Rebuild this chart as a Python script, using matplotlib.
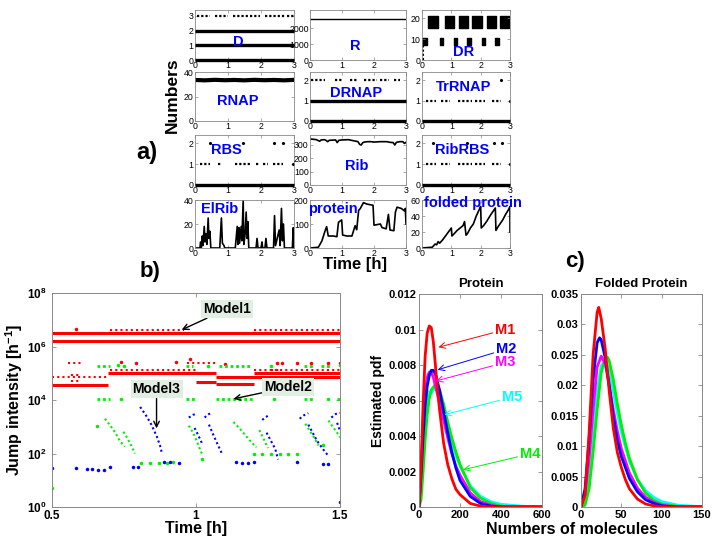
import matplotlib
matplotlib.use('Agg')
import matplotlib.pyplot as plt
from matplotlib.ticker import NullLocator, FormatStrFormatter

plt.rcParams['font.family'] = ['Liberation Sans', 'DejaVu Sans']
plt.rcParams['mathtext.fontset'] = 'custom'
plt.rcParams['mathtext.rm'] = 'Liberation Sans'
plt.rcParams['mathtext.bf'] = 'Liberation Sans:bold'
plt.rcParams['mathtext.it'] = 'Liberation Sans:italic'

# ---------------- DATA: panel a ----------------
D_solid = [0, 1, 2]
D_dots3 = [(0.05, 0.45), (0.62, 1.0), (1.15, 1.6), (1.68, 1.98), (2.12, 2.72), (2.8, 3.0)]

R_t = [0, 3]
R_v = [2600, 2600]

DR_hi_blocks = [(0.22, 0.32), (0.78, 0.32), (1.25, 0.32), (1.72, 0.32), (2.2, 0.32), (2.66, 0.32)]
DR_lo_blocks = [(0.0, 0.17), (0.6, 0.13), (1.08, 0.13), (1.55, 0.13), (2.03, 0.13), (2.5, 0.13)]

RNAP_t = [0, 0.3, 0.6, 0.9, 1.2, 1.5, 1.8, 2.1, 2.4, 2.7, 3.0]
RNAP_v = [33.5, 33.2, 33.6, 33.3, 33.5, 33.2, 33.6, 33.3, 33.5, 33.2, 33.6]

DRNAP_solid = [0, 1]
DRNAP_dots2 = [(0.02, 0.47), (0.78, 0.99), (1.25, 1.46), (1.69, 2.09), (2.19, 2.46), (2.61, 2.82)]

TrRNAP_dots1 = [(0.15, 0.49), (0.66, 0.95), (1.23, 1.69), (1.8, 2.14), (2.37, 2.71)]
TrRNAP_single_t = [2.68, 3.0]
TrRNAP_single_v = [2, 1]

RBS_dots1 = [(0.15, 0.45), (0.7, 0.8), (1.21, 1.66), (1.86, 1.96), (2.06, 2.22), (2.37, 2.67)]
RBS_single_t = [0.45, 1.46, 2.39, 2.67, 2.97]
RBS_single_v = [2, 2, 2, 2, 1]

Rib_t = [0, 0.1, 0.2, 0.3, 0.35, 0.45, 0.5, 0.55, 0.6, 0.8, 0.85, 0.9, 1.0, 1.2, 1.3, 1.4,
         1.5, 1.55, 1.6, 1.65, 1.7, 1.8, 1.9, 2.0, 2.2, 2.4, 2.5, 2.6, 2.65, 2.7, 2.8, 2.9, 2.95, 3.0]
Rib_v = [345, 343, 340, 328, 338, 340, 335, 325, 335, 338, 318, 335, 338, 340, 335, 330,
         325, 305, 300, 318, 322, 325, 325, 322, 325, 325, 320, 318, 300, 320, 325, 325, 312, 320]

RibRBS_dots1 = [(0.15, 0.49), (0.66, 0.95), (1.23, 1.69), (1.8, 2.14), (2.37, 2.71)]
RibRBS_single_t = [0.38, 1.52, 2.46, 2.74, 3.0]
RibRBS_single_v = [2, 2, 2, 2, 1]

ElRib_t = [0, 0.15, 0.17, 0.19, 0.22, 0.24, 0.28, 0.30, 0.33, 0.36, 0.40, 0.42, 0.45, 0.48, 0.75,
           0.80, 0.83, 0.88, 0.90, 1.22, 1.28, 1.30, 1.33, 1.35, 1.40, 1.42, 1.46, 1.48, 1.52, 1.55,
           1.58, 1.60, 1.63, 1.85, 1.88, 1.91, 2.00, 2.03, 2.05, 2.12, 2.15, 2.18, 2.38, 2.41, 2.44,
           2.55, 2.58, 2.62, 2.65, 2.68, 2.71, 2.95, 2.98, 3.0]
ElRib_v = [0, 0, 5, 0, 10, 2, 18, 5, 12, 3, 25, 8, 14, 0, 0,
           25, 4, 2, 0, 0, 18, 3, 17, 4, 18, 6, 40, 3, 12, 30,
           8, 22, 0, 0, 8, 0, 0, 5, 0, 0, 8, 0, 0, 27, 2,
           15, 2, 33, 6, 20, 0, 0, 17, 0]

Prot_t = [0, 0.26, 0.37, 0.47, 0.52, 0.57, 0.73, 0.84, 0.89, 0.99, 1.02, 1.15, 1.31, 1.41, 1.46,
          1.52, 1.57, 1.67, 1.78, 1.97, 2.0, 2.2, 2.25, 2.38, 2.45, 2.5, 2.62, 2.67, 2.72, 2.85,
          2.95, 2.98, 3.0]
Prot_v = [0, 3, 29, 71, 89, 50, 50, 47, 107, 117, 54, 50, 50, 93, 76,
          157, 164, 189, 183, 178, 95, 100, 85, 80, 140, 75, 72, 150, 170, 165,
          155, 165, 100]

Fold_t = [0, 0.35, 0.45, 0.5, 0.55, 0.6, 0.7, 0.8, 0.9, 1.0, 1.02, 1.1, 1.2, 1.3, 1.4, 1.45, 1.5,
          1.55, 1.65, 1.75, 1.85, 1.95, 2.0, 2.02, 2.1, 2.2, 2.35, 2.5, 2.52, 2.6, 2.75, 2.85,
          2.95, 3.0, 3.0]
Fold_v = [0, 1, 5, 4, 8, 6, 10, 15, 20, 25, 15, 18, 22, 25, 28, 33, 16,
          18, 25, 30, 40, 48, 52, 25, 28, 33, 42, 50, 22, 27, 35, 42,
          48, 52, 20]

# ---------------- DATA: panel b ----------------
red_thick_start = [0.50, 0.50, 0.50, 0.695, 1.20, 1.00, 1.07, 1.07]
red_thick_end = [1.50, 1.50, 0.695, 1.07, 1.50, 1.07, 1.20, 1.50]
red_thick_level = [3.1e6, 1.6e6, 3.6e4, 1.05e5, 1.05e5, 4.8e4, 3.8e4, 7.2e4]

red_dot_start = [0.50, 0.70, 1.20, 0.97, 0.555, 0.70, 1.20, 0.565, 0.565, 1.26]
red_dot_end = [0.695, 0.96, 1.50, 1.07, 0.60, 1.00, 1.50, 0.60, 0.60, 1.30]
red_dot_level = [7.1e4, 4.3e6, 4.3e6, 2.4e5, 2.4e5, 1.35e5, 1.3e5, 5.0e4, 8.5e4, 1.3e5]

red_single_x = [0.585, 0.74, 0.79, 0.93, 1.10, 1.28, 1.30, 1.35, 1.40, 1.46, 1.50, 0.98]
red_single_y = [4.6e6, 2.6e5, 2.4e5, 2.6e5, 2.3e5, 2.5e5, 2.5e5, 2.5e5, 2.4e5, 2.5e5, 2.4e5, 3.5e5]

green_seg_start = [0.655, 0.965, 1.08, 1.375, 1.435, 0.655, 0.965, 1.07, 1.375, 1.49]
green_seg_end = [0.70, 0.99, 1.19, 1.41, 1.465, 0.70, 1.00, 1.20, 1.41, 1.50]
green_seg_level = [1.9e5, 1.9e5, 1.9e5, 1.9e5, 1.9e5, 1.1e4, 1.1e4, 1.1e4, 1.1e4, 1.1e4]

green_streak_x = [[0.684, 0.70, 0.72, 0.735, 0.753],
                  [0.748, 0.76, 0.775, 0.788],
                  [0.975, 0.99, 1.005, 1.02],
                  [1.13, 1.15, 1.17, 1.19, 1.21],
                  [1.22, 1.235, 1.25],
                  [1.38, 1.395, 1.41, 1.425],
                  [1.46, 1.475, 1.49, 1.50]]
green_streak_y = [[2.0e3, 1.2e3, 600, 300, 180],
                  [650, 400, 200, 100],
                  [1.1e3, 600, 250, 100],
                  [1.5e3, 900, 500, 280, 170],
                  [750, 350, 160],
                  [1.3e3, 700, 400, 200],
                  [1.7e3, 1.0e3, 600, 400]]
green_single_x = [0.655, 0.73, 0.75, 0.74, 0.81, 0.84, 0.87, 0.90, 0.92, 0.50, 1.20, 1.23, 1.26,
                  1.29, 1.32, 1.35, 1.02, 1.44, 1.04, 1.26, 1.27, 1.50, 1.46]
green_single_y = [1.1e3, 2.0e5, 1.9e5, 1.1e4, 45, 45, 45, 45, 48, 5, 100, 95, 100,
                  95, 95, 95, 60, 200, 1.9e5, 1.9e5, 1.1e4, 2.0e5, 1.1e4]

blue_streak_x = [[0.806, 0.815, 0.829, 0.845, 0.864, 0.875, 0.882],
                 [0.975, 0.99, 1.0],
                 [0.995, 1.005, 1.015, 1.02],
                 [1.03, 1.04, 1.05],
                 [1.045, 1.06, 1.075, 1.09],
                 [1.23, 1.24, 1.25],
                 [1.245, 1.26, 1.275, 1.285],
                 [1.36, 1.375, 1.39],
                 [1.39, 1.405, 1.42, 1.44, 1.46],
                 [1.47, 1.485, 1.50],
                 [1.49, 1.50]]
blue_streak_y = [[5.5e3, 4e3, 2.4e3, 1.2e3, 430, 200, 100],
                 [2.2e3, 2.8e3, 3e3],
                 [900, 550, 330, 250],
                 [2.2e3, 2.8e3, 3.2e3],
                 [1.2e3, 500, 220, 100],
                 [1.8e3, 2.2e3, 2.6e3],
                 [600, 300, 150, 60],
                 [2e3, 2.7e3, 3.2e3],
                 [1.2e3, 600, 300, 150, 80],
                 [2.2e3, 3e3, 3.3e3],
                 [1.4e3, 700]]
blue_single_x = [0.50, 0.585, 0.62, 0.64, 0.66, 0.68, 0.70, 0.78, 0.80, 0.89, 0.91, 0.94,
                 1.14, 1.16, 1.18, 1.20, 1.35, 1.44, 1.46, 1.50]
blue_single_y = [28, 28, 27, 26, 25, 25, 30, 30, 32, 48, 48, 45,
                 48, 46, 46, 50, 50, 40, 40, 1.6]

# ---------------- DATA: panel c ----------------
prot_x = {
    'M1': [0, 10, 20, 30, 40, 50, 60, 70, 80, 90, 100, 120, 140, 160, 180, 200, 250, 300, 350, 600],
    'M2': [0, 10, 20, 30, 40, 50, 60, 70, 80, 100, 120, 140, 160, 180, 200, 250, 300, 350, 400, 600],
    'M3': [0, 10, 20, 30, 40, 50, 60, 70, 80, 100, 120, 140, 160, 180, 200, 250, 300, 350, 400, 600],
    'M4': [0, 10, 20, 30, 40, 50, 60, 80, 100, 120, 140, 160, 180, 200, 250, 300, 350, 400, 450, 600],
    'M5': [0, 10, 20, 30, 40, 50, 60, 70, 90, 100, 120, 140, 160, 180, 200, 250, 300, 350, 400, 500, 600],
}
prot_y = {
    'M1': [0, 0.0022, 0.0058, 0.0085, 0.0098, 0.0102, 0.0101, 0.0093, 0.0080, 0.0066, 0.0055,
           0.0036, 0.0024, 0.0016, 0.0010, 0.0007, 0.0002, 0.00005, 0, 0],
    'M2': [0, 0.0018, 0.0040, 0.0057, 0.0068, 0.0074, 0.0077, 0.0077, 0.0075, 0.0066, 0.0054,
           0.0042, 0.0031, 0.0022, 0.0015, 0.0006, 0.0002, 0.00005, 0, 0],
    'M3': [0, 0.0022, 0.0047, 0.0064, 0.0073, 0.0076, 0.0076, 0.0073, 0.0068, 0.0059, 0.0049,
           0.0039, 0.0030, 0.0023, 0.0018, 0.0008, 0.0003, 0.0001, 0, 0],
    'M4': [0, 0.0004, 0.0020, 0.0038, 0.0052, 0.0061, 0.0066, 0.0069, 0.0066, 0.0058, 0.0048,
           0.0039, 0.0031, 0.0024, 0.0011, 0.0005, 0.0002, 0.00005, 0, 0],
    'M5': [0, 0.0010, 0.0030, 0.0050, 0.0062, 0.0065, 0.0064, 0.0066, 0.0068, 0.0065, 0.0056,
           0.0046, 0.0037, 0.0029, 0.0023, 0.0012, 0.0006, 0.0003, 0.00015, 0.00005, 0],
}
fold_x = {
    'M1': [0, 5, 10, 15, 20, 22, 25, 30, 35, 40, 45, 50, 55, 60, 70, 80, 90, 100, 110, 150],
    'M2': [0, 5, 10, 15, 20, 23, 25, 30, 35, 40, 45, 50, 60, 70, 80, 90, 100, 115, 150],
    'M3': [0, 5, 10, 15, 20, 25, 30, 35, 40, 45, 50, 60, 70, 80, 90, 100, 120, 150],
    'M4': [0, 5, 10, 15, 20, 25, 30, 33, 35, 40, 45, 50, 55, 60, 70, 80, 90, 100, 120, 150],
    'M5': [0, 5, 10, 15, 20, 25, 29, 32, 35, 40, 45, 50, 60, 70, 80, 90, 100, 120, 150],
}
fold_y = {
    'M1': [0, 0.002, 0.012, 0.025, 0.032, 0.0328, 0.031, 0.026, 0.019, 0.013, 0.009, 0.0065,
           0.0045, 0.003, 0.0013, 0.0005, 0.0002, 0.00005, 0, 0],
    'M2': [0, 0.003, 0.011, 0.021, 0.027, 0.0278, 0.0275, 0.0245, 0.020, 0.015, 0.011, 0.0083,
           0.0047, 0.0025, 0.0012, 0.0006, 0.0002, 0, 0],
    'M3': [0, 0.002, 0.008, 0.016, 0.023, 0.0248, 0.0235, 0.020, 0.016, 0.0125, 0.0096, 0.0056,
           0.0031, 0.0016, 0.0008, 0.0003, 0, 0],
    'M4': [0, 0.0003, 0.003, 0.009, 0.016, 0.022, 0.0245, 0.0246, 0.024, 0.021, 0.017, 0.0135,
           0.0105, 0.008, 0.0045, 0.0023, 0.0011, 0.0005, 0.0001, 0],
    'M5': [0, 0.001, 0.005, 0.012, 0.019, 0.0232, 0.0238, 0.0235, 0.0225, 0.019, 0.0155, 0.0123,
           0.0075, 0.0045, 0.0027, 0.0016, 0.0009, 0.0003, 0.00005],
}
model_names = ['M1', 'M2', 'M3', 'M4', 'M5']
model_colors = {'M1': '#ff0000', 'M2': '#0000ff', 'M3': '#ff00ff', 'M4': '#00ee00', 'M5': '#00ffff'}
draw_order = ['M5', 'M4', 'M3', 'M2', 'M1']

# ---------------- FIGURE ----------------
W, H = 720, 540
fig = plt.figure(figsize=(7.2, 5.4), dpi=100)


def pax(l, t, r, b):
    return fig.add_axes([l / W, 1 - b / H, (r - l) / W, (b - t) / H])


SPINE = '#888888'


def style_small(ax, ylim, yticks):
    ax.set_xlim(0, 3)
    ax.set_ylim(*ylim)
    ax.set_xticks([0, 1, 2, 3])
    ax.set_yticks(yticks)
    ax.tick_params(direction='in', length=2, width=0.5, labelsize=6.3, pad=1,
                   top=True, right=True, color=SPINE, labelcolor='black')
    for s in ax.spines.values():
        s.set_color(SPINE)
        s.set_linewidth(0.6)


def label(ax, txt, fx, fy):
    ax.text(fx, fy, txt, transform=ax.transAxes, color='#0000ff', fontweight='bold',
            fontsize=10.5, ha='center', va='center', zorder=5, clip_on=False)


def solid_levels(ax, levels):
    for lv in levels:
        ax.plot([0, 3], [lv, lv], color='black', lw=2.4, solid_capstyle='butt', clip_on=False, zorder=3)


def dot_segments(ax, segs, lv):
    for a, b in segs:
        ax.plot([a, b], [lv, lv], color='black', lw=1.6, ls=(0, (1, 0.9)), zorder=3)


cols = [(195, 294), (310, 406), (422, 510)]
rows = [(10, 60), (72, 121), (135, 185), (200, 248)]

# D
ax = pax(cols[0][0], rows[0][0], cols[0][1], rows[0][1])
style_small(ax, (0, 3.4), [0, 1, 2, 3])
solid_levels(ax, D_solid)
dot_segments(ax, D_dots3, 3)
label(ax, 'D', 0.44, 0.35)

# R
ax = pax(cols[1][0], rows[0][0], cols[1][1], rows[0][1])
style_small(ax, (0, 3150), [0, 1000, 2000])
ax.plot(R_t, R_v, color='black', lw=1)
label(ax, 'R', 0.47, 0.28)

# DR
ax = pax(cols[2][0], rows[0][0], cols[2][1], rows[0][1])
style_small(ax, (0, 24), [0, 10, 20])
ax.broken_barh(DR_hi_blocks, (15.5, 5.5), facecolor='black', edgecolor='black')
ax.broken_barh(DR_lo_blocks, (7, 3.5), facecolor='black', edgecolor='black')
ax.plot([0.03, 0.03], [0, 10], color='black', lw=1.5, ls=(0, (1, 1)))
label(ax, 'DR', 0.47, 0.17)

# RNAP
ax = pax(cols[0][0], rows[1][0], cols[0][1], rows[1][1])
style_small(ax, (0, 40), [0, 20, 40])
ax.plot(RNAP_t, RNAP_v, color='black', lw=3)
label(ax, 'RNAP', 0.43, 0.41)

# DRNAP
ax = pax(cols[1][0], rows[1][0], cols[1][1], rows[1][1])
style_small(ax, (0, 2.4), [0, 1, 2])
solid_levels(ax, DRNAP_solid)
dot_segments(ax, DRNAP_dots2, 2)
label(ax, 'DRNAP', 0.48, 0.57)

# TrRNAP
ax = pax(cols[2][0], rows[1][0], cols[2][1], rows[1][1])
style_small(ax, (0, 2.4), [0, 1, 2])
solid_levels(ax, [0])
dot_segments(ax, TrRNAP_dots1, 1)
ax.plot(TrRNAP_single_t, TrRNAP_single_v, ls='none', marker='.', ms=2.5, color='black')
label(ax, 'TrRNAP', 0.47, 0.69)

# RBS
ax = pax(cols[0][0], rows[2][0], cols[0][1], rows[2][1])
style_small(ax, (0, 2.4), [0, 1, 2])
solid_levels(ax, [0])
dot_segments(ax, RBS_dots1, 1)
ax.plot(RBS_single_t, RBS_single_v, ls='none', marker='.', ms=2.5, color='black')
label(ax, 'RBS', 0.32, 0.70)

# Rib
ax = pax(cols[1][0], rows[2][0], cols[1][1], rows[2][1])
style_small(ax, (0, 375), [0, 100, 200, 300])
ax.plot(Rib_t, Rib_v, color='black', lw=1.2)
label(ax, 'Rib', 0.49, 0.39)

# RibRBS
ax = pax(cols[2][0], rows[2][0], cols[2][1], rows[2][1])
style_small(ax, (0, 2.4), [0, 1, 2])
solid_levels(ax, [0])
dot_segments(ax, RibRBS_dots1, 1)
ax.plot(RibRBS_single_t, RibRBS_single_v, ls='none', marker='.', ms=2.5, color='black')
label(ax, 'RibRBS', 0.46, 0.71)

# ElRib
ax = pax(cols[0][0], rows[3][0], cols[0][1], rows[3][1])
style_small(ax, (0, 40), [0, 20, 40])
ax.plot(ElRib_t, ElRib_v, color='black', lw=1.2)
label(ax, 'ElRib', 0.25, 0.81)

# protein
ax = pax(cols[1][0], rows[3][0], cols[1][1], rows[3][1])
style_small(ax, (0, 200), [0, 100, 200])
ax.plot(Prot_t, Prot_v, color='black', lw=1.2)
label(ax, 'protein', 0.24, 0.81)

# folded protein
ax = pax(cols[2][0], rows[3][0], cols[2][1], rows[3][1])
style_small(ax, (0, 60), [0, 20, 40, 60])
ax.plot(Fold_t, Fold_v, color='black', lw=1.2)
label(ax, 'folded protein', 0.58, 0.94)

fig.text(172 / W, 1 - 95 / H, 'Numbers', rotation=90, fontsize=12.5, fontweight='bold',
         ha='center', va='center')
fig.text(355 / W, 1 - 265 / H, 'Time [h]', fontsize=12, fontweight='bold', ha='center', va='center')
fig.text(147 / W, 1 - 152 / H, 'a)', fontsize=17, fontweight='bold', ha='center', va='center')

# ---------------- panel b ----------------
axb = pax(52, 293, 340, 507)
axb.set_yscale('log')
axb.set_xlim(0.5, 1.5)
axb.set_ylim(1, 1e8)
axb.set_yticks([1, 1e2, 1e4, 1e6, 1e8])
axb.set_yticklabels([r'$\mathbf{10^{%d}}$' % p for p in [0, 2, 4, 6, 8]])
axb.yaxis.set_minor_locator(NullLocator())
axb.set_xticks([0.5, 1, 1.5])
axb.set_xticklabels(['0.5', '1', '1.5'])
axb.tick_params(direction='in', length=3, width=0.6, labelsize=8.5, top=True, right=True,
                color=SPINE, labelcolor='black', pad=4)
axb.tick_params(axis='x', pad=2)
for lab in axb.get_xticklabels():
    lab.set_fontweight('bold')
for s in axb.spines.values():
    s.set_color(SPINE)
    s.set_linewidth(0.7)

for a, b, lv in zip(red_thick_start, red_thick_end, red_thick_level):
    axb.plot([a, b], [lv, lv], color='#ff0000', lw=2.2, solid_capstyle='butt')
for a, b, lv in zip(red_dot_start, red_dot_end, red_dot_level):
    axb.plot([a, b], [lv, lv], color='#ff0000', lw=1.5, ls=(0, (1, 1.5)))
axb.plot(red_single_x, red_single_y, ls='none', marker='.', ms=3, color='#ff0000')

for a, b, lv in zip(green_seg_start, green_seg_end, green_seg_level):
    axb.plot([a, b], [lv, lv], color='#00ee00', lw=2.0, ls=(0, (1, 1)))
for xs, ys in zip(green_streak_x, green_streak_y):
    axb.plot(xs, ys, color='#00ee00', lw=1.5, ls=(0, (1, 1.3)))
axb.plot(green_single_x, green_single_y, ls='none', marker='.', ms=3, color='#00ee00')

for xs, ys in zip(blue_streak_x, blue_streak_y):
    axb.plot(xs, ys, color='#0000ff', lw=1.5, ls=(0, (1, 1.3)))
axb.plot(blue_single_x, blue_single_y, ls='none', marker='.', ms=3, color='#0000ff')

box = dict(boxstyle='square,pad=0.15', facecolor='#e2eee2', edgecolor='none')
arw = dict(arrowstyle='->', color='black', lw=1, shrinkA=0, shrinkB=0)
axb.annotate('Model1', xy=(0.95, 4.2e6), xytext=(1.107, 2.5e7), fontsize=10, fontweight='bold',
             ha='center', va='center', bbox=box, arrowprops=arw)
axb.annotate('Model2', xy=(1.13, 1.1e4), xytext=(1.32, 3.0e4), fontsize=10, fontweight='bold',
             ha='center', va='center', bbox=box, arrowprops=arw)
axb.annotate('Model3', xy=(0.863, 870), xytext=(0.863, 2.5e4), fontsize=10, fontweight='bold',
             ha='center', va='center', bbox=box, arrowprops=arw)

axb.set_ylabel('Jump intensity [h$^{\\mathbf{-1}}$]', fontsize=11.5, fontweight='bold', labelpad=1)
fig.text(196 / W, 1 - 529 / H, 'Time [h]', fontsize=11.5, fontweight='bold', ha='center', va='center')
fig.text(150 / W, 1 - 272 / H, 'b)', fontsize=16, fontweight='bold', ha='center', va='center')


# ---------------- panel c ----------------
def style_c(ax, xlim, xticks, ylim, yticks, title):
    ax.set_xlim(*xlim)
    ax.set_ylim(*ylim)
    ax.set_xticks(xticks)
    ax.set_yticks(yticks)
    ax.yaxis.set_major_formatter(FormatStrFormatter('%g'))
    ax.tick_params(direction='in', length=3, width=0.6, labelsize=8, top=True, right=True,
                   color=SPINE, labelcolor='black', pad=2)
    for lab in ax.get_xticklabels() + ax.get_yticklabels():
        lab.set_fontweight('bold')
    for s in ax.spines.values():
        s.set_color(SPINE)
        s.set_linewidth(0.7)
    ax.set_title(title, fontsize=9.5, fontweight='bold', pad=5)


axc1 = pax(419, 294, 542, 507)
style_c(axc1, (0, 600), [0, 200, 400, 600], (0, 0.012),
        [0, 0.002, 0.004, 0.006, 0.008, 0.010, 0.012], 'Protein')
for m in draw_order:
    axc1.plot(prot_x[m], prot_y[m], color=model_colors[m], lw=2)

ann_text_x = {'M1': 373, 'M2': 378, 'M3': 373, 'M4': 494, 'M5': 406}
ann_text_y = {'M1': 0.0100, 'M2': 0.0089, 'M3': 0.00815, 'M4': 0.0030, 'M5': 0.0062}
ann_pt_x = {'M1': 95, 'M2': 91, 'M3': 83, 'M4': 216, 'M5': 124}
ann_pt_y = {'M1': 0.0090, 'M2': 0.00773, 'M3': 0.0071, 'M4': 0.0021, 'M5': 0.0052}
for m in model_names:
    axc1.annotate(m, xy=(ann_pt_x[m], ann_pt_y[m]), xytext=(ann_text_x[m], ann_text_y[m]),
                  color=model_colors[m], fontsize=10.5, fontweight='bold', ha='left', va='center',
                  annotation_clip=False,
                  arrowprops=dict(arrowstyle='->', color=model_colors[m], lw=0.7,
                                  shrinkA=0, shrinkB=0))
axc1.set_ylabel('Estimated pdf', fontsize=10, fontweight='bold', labelpad=2)

axc2 = pax(581, 294, 702, 507)
style_c(axc2, (0, 150), [0, 50, 100, 150], (0, 0.035),
        [0, 0.005, 0.010, 0.015, 0.020, 0.025, 0.030, 0.035], 'Folded Protein')
for m in draw_order:
    axc2.plot(fold_x[m], fold_y[m], color=model_colors[m], lw=2)

fig.text(572 / W, 1 - 530 / H, 'Numbers of molecules', fontsize=11.5, fontweight='bold',
         ha='center', va='center')
fig.text(575 / W, 1 - 262 / H, 'c)', fontsize=16, fontweight='bold', ha='center', va='center')

fig.savefig('out.png', dpi=100)
